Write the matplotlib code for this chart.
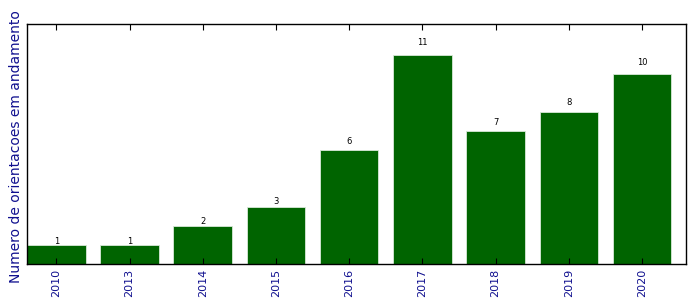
import matplotlib
matplotlib.use("Agg")
import matplotlib.pyplot as plt

years = ["2010", "2013", "2014", "2015", "2016", "2017", "2018", "2019", "2020"]
counts = [1, 1, 2, 3, 6, 11, 7, 8, 10]

fig = plt.figure(figsize=(6.96, 3.08), dpi=100)
ax = fig.add_axes([0.0388, 0.1429, 0.9468, 0.7792])

x = list(range(len(years)))
bars = ax.bar(x, counts, width=0.8, align="edge", color="#006400", edgecolor="#d8e8d8", linewidth=0.6)
for xi, c in zip(x, counts):
    ax.text(xi + 0.4, c * 1.05, str(c), ha="center", va="baseline", fontsize=6)

ax.set_xlim(0, len(years))
ax.set_ylim(0, max(counts) * 1.15)
ax.set_xticks([xi + 0.4 for xi in x])
ax.set_xticklabels(years, rotation=90, color="#10108f", fontsize=8)
ax.set_yticks([])
ax.tick_params(axis="x", direction="in", top=True, bottom=True, length=4, width=0.8)
ax.set_ylabel("Numero de orientacoes em andamento", color="#10108f", fontsize=10)
ax.yaxis.set_label_coords(-0.006, 0.49)
for s in ax.spines.values():
    s.set_linewidth(1.0)

fig.savefig("out.png", dpi=100)
